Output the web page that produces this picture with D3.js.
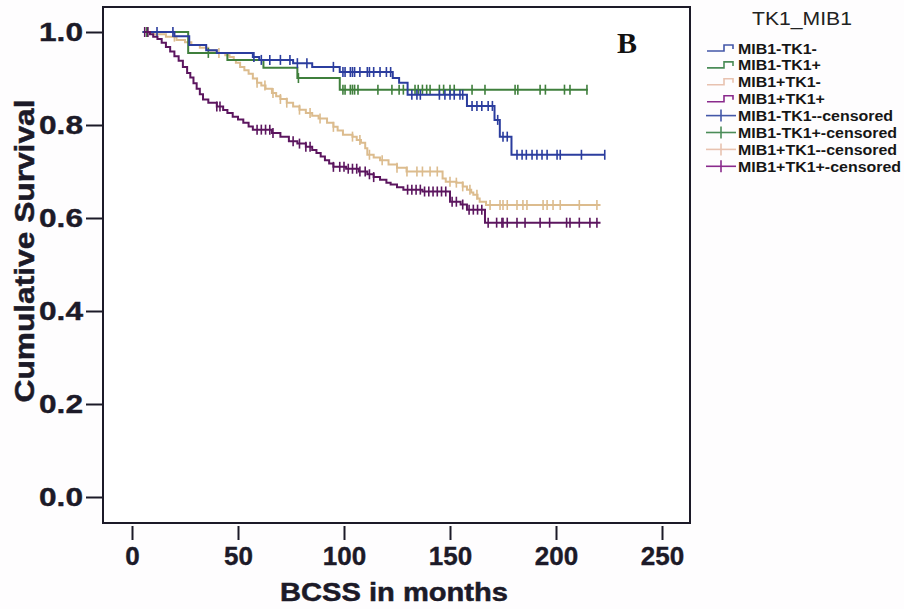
<!DOCTYPE html>
<html><head><meta charset="utf-8">
<script src="https://cdn.jsdelivr.net/npm/d3@7"></script>
<style>
html,body{margin:0;padding:0;background:#fff;}
text{font-family:"Liberation Sans",Arial,sans-serif;}
</style></head>
<body>
<svg id="c" width="904" height="609"></svg>
<script>
// ---------- data ----------
const groups = ["MIB1-TK1-","MIB1-TK1+","MIB1+TK1-","MIB1+TK1+"];
const legendLabels = ["MIB1-TK1-","MIB1-TK1+","MIB1+TK1-","MIB1+TK1+",
  "MIB1-TK1--censored","MIB1-TK1+-censored","MIB1+TK1--censored","MIB1+TK1+-censored"];
const xTicks = [0,50,100,150,200,250];
const yTicks = [0,0.2,0.4,0.6,0.8,1.0];

// [time, survival after event]
const blueSteps = [[5,1.0],[20,0.991],[27,0.972],[35,0.961],[40,0.955],[57,0.946],[60,0.94],[76,0.933],[85,0.925],[98,0.914],[123,0.901],[126,0.891],[130,0.865],[158,0.841],[171,0.811],[173.5,0.775],[179,0.736]];
const blueEnd = 223;
const greenSteps = [[5,1.0],[26.5,0.955],[45,0.94],[62,0.923],[78,0.901],[98,0.876]];
const greenEnd = 215;
const tanSteps = [[5,1.0],[10,0.995],[16,0.99],[21,0.983],[25,0.978],[28,0.972],[32,0.966],[36,0.96],[40,0.955],[44,0.95],[46,0.946],[48,0.94],[49,0.934],[51,0.925],[53,0.918],[55,0.91],[57,0.9],[59,0.891],[61,0.885],[63,0.878],[66,0.869],[68,0.862],[70,0.856],[73,0.848],[76,0.84],[79,0.833],[82,0.826],[85,0.82],[88,0.814],[92,0.805],[95,0.796],[97,0.788],[99.5,0.779],[104,0.775],[106,0.768],[108,0.762],[110,0.75],[111,0.736],[114,0.73],[117,0.724],[121,0.715],[125,0.708],[129.5,0.700],[146.5,0.685],[148,0.678],[153,0.676],[156,0.668],[158,0.661],[160,0.655],[161,0.65],[163,0.642],[164,0.635],[167,0.628]];
const tanEnd = 221;
const purpleSteps = [[6,1.0],[8.5,0.995],[10,0.99],[12,0.985],[14,0.977],[16,0.968],[18,0.958],[20,0.948],[22,0.938],[24,0.925],[26,0.912],[27.5,0.902],[29,0.89],[30.5,0.878],[32,0.866],[33.5,0.855],[36,0.848],[40,0.84],[43,0.832],[45,0.826],[47.5,0.818],[50,0.812],[52.5,0.805],[55,0.797],[57,0.79],[66,0.783],[70,0.775],[74,0.765],[78,0.76],[82,0.753],[85,0.746],[87,0.74],[89,0.732],[91,0.724],[93,0.717],[95,0.71],[101,0.706],[107,0.7],[111,0.694],[114,0.688],[117,0.682],[120,0.676],[122,0.672],[125,0.666],[128,0.661],[137,0.657],[150,0.635],[155,0.629],[158,0.618],[166.5,0.59]];
const purpleEnd = 221;

const blueCens = [11.8,19.3,57.5,61,65,70,74.5,78,82.5,95,99.5,100.5,103,104,105,107.5,111,112,114,117,120,122,132,134.4,136,145,147.6,150,152,154.7,156,160.4,162.7,165,168,170,172.5,175,177,181.6,184,186,188.7,191,193.4,195.8,200.5,202,212,223];
const greenCens = [7,36,78.5,99.5,100.5,103,104,105,106.6,116,122.6,126,128,133.5,135,137,139,140.6,145,147,150,152,160.4,166.5,180.7,182,192.5,195,204,206.6,214.6];
const tanCens = [7,20,41,59,62.7,66.5,70,73,79,84,88.7,95,104,107.5,112,118,125,129.7,134.4,137,140.6,144,150,153,156,159.4,162.7,168.9,173.6,175,177,181.6,184.4,186.3,193.9,195.8,198.6,202,211,219.3];
const purpleCens = [6,7.5,40,41.5,59,61,63,65,66.5,76,79,82,84,95,98,100,102,104,106,107.5,110,112,114,130,132,134,136,138,140,142,144,146,148,151,153,156,159,161,163,165,168,172,174.5,175,177,181.6,185.4,192.5,197,205,206.6,211,216,219.3];

const colors = ["#2b3d9e","#3f7f3c","#dcbc8e","#5c165f"];
const legendColors = ["#4457a8","#4b8c58","#e8c2b0","#8a2a8c"];

// ---------- layout ----------
const svg = d3.select("#c");
const x = d3.scaleLinear().domain([0,250]).range([132,662]);
const y = d3.scaleLinear().domain([0,1]).range([497,32]);
const frame = {l:103, t:7, r:690, b:523};
const ink = "#1c1a28";

svg.append("rect").attr("x",0).attr("y",0).attr("width",904).attr("height",609).attr("fill","#fefdfe");
svg.append("rect").attr("x",frame.l).attr("y",frame.t).attr("width",frame.r-frame.l).attr("height",frame.b-frame.t)
  .attr("fill","#fff").attr("stroke",ink).attr("stroke-width",2);

// axes
const yAxis = d3.axisLeft(y).tickValues(yTicks).tickFormat(d3.format(".1f")).tickSize(17).tickPadding(3);
const gy = svg.append("g").attr("transform",`translate(${frame.l},0)`).call(yAxis);
const xAxis = d3.axisBottom(x).tickValues(xTicks).tickFormat(d3.format("d")).tickSize(14).tickPadding(7);
const gx = svg.append("g").attr("transform",`translate(0,${frame.b+3})`).call(xAxis);
[gy,gx].forEach(g=>{
  g.select(".domain").remove();
  g.selectAll(".tick line").attr("stroke",ink).attr("stroke-width",2);
  g.selectAll(".tick text").attr("fill",ink).attr("font-size",26).attr("font-weight","bold")
    .attr("stroke",ink).attr("stroke-width",0.4).style("font-family","'Liberation Sans',Arial,sans-serif");
});
gy.selectAll(".tick text").attr("textLength",44).attr("lengthAdjust","spacingAndGlyphs");

// axis titles
svg.append("text").attr("transform","translate(34,251) rotate(-90)").attr("text-anchor","middle")
  .attr("font-size",27).attr("font-weight","bold").attr("fill",ink).attr("stroke",ink).attr("stroke-width",0.5)
  .attr("textLength",303).attr("lengthAdjust","spacingAndGlyphs").text("Cumulative Survival");
svg.append("text").attr("x",394).attr("y",601).attr("text-anchor","middle")
  .attr("font-size",25).attr("font-weight","bold").attr("fill",ink).attr("stroke",ink).attr("stroke-width",0.5)
  .attr("textLength",228).attr("lengthAdjust","spacingAndGlyphs").text("BCSS in months");

// panel letter
svg.append("text").attr("x",617).attr("y",53).attr("font-size",30).attr("font-weight","bold")
  .style("font-family","'Liberation Serif','Times New Roman',serif").attr("fill","#111").text("B");

// curves
const series = [
  {steps:blueSteps,end:blueEnd,cens:blueCens},
  {steps:greenSteps,end:greenEnd,cens:greenCens},
  {steps:tanSteps,end:tanEnd,cens:tanCens},
  {steps:purpleSteps,end:purpleEnd,cens:purpleCens}
];
const line = d3.line().x(d=>x(d[0])).y(d=>y(d[1])).curve(d3.curveStepAfter);
function sAt(steps,t){let s=steps[0][1];for(const p of steps){if(p[0]<=t)s=p[1];else break;}return s;}
const drawOrder=[2,1,0,3];
drawOrder.forEach(i=>{
  const sr=series[i];
  const pts=sr.steps.concat([[sr.end,sr.steps[sr.steps.length-1][1]]]);
  svg.append("path").attr("d",line(pts)).attr("fill","none").attr("stroke",colors[i]).attr("stroke-width",2);
  svg.append("g").selectAll("line").data(sr.cens).join("line")
    .attr("x1",d=>x(d)).attr("x2",d=>x(d))
    .attr("y1",d=>y(sAt(sr.steps,d))-5).attr("y2",d=>y(sAt(sr.steps,d))+5)
    .attr("stroke",colors[i]).attr("stroke-width",1.6);
});

// legend
const lg = svg.append("g");
lg.append("text").attr("x",802).attr("y",25).attr("text-anchor","middle").attr("font-size",18)
  .attr("fill","#222").attr("textLength",100).attr("lengthAdjust","spacingAndGlyphs").text("TK1_MIB1");
const rowY = i => 48 + i*16.9;
legendLabels.forEach((lab,i)=>{
  const cy=rowY(i);
  const c=legendColors[i%4];
  if(i<4){
    lg.append("path").attr("d",`M707,${cy+3}H724V${cy-3}H733V${cy+1}`).attr("fill","none").attr("stroke",c).attr("stroke-width",1.6);
  } else {
    lg.append("line").attr("x1",706).attr("x2",736).attr("y1",cy).attr("y2",cy).attr("stroke",c).attr("stroke-width",1.6);
    lg.append("line").attr("x1",721).attr("x2",721).attr("y1",cy-6).attr("y2",cy+6).attr("stroke",c).attr("stroke-width",1.6);
  }
  const t=lg.append("text").attr("x",738).attr("y",cy+5.5).attr("font-size",14.5).attr("font-weight","bold")
    .attr("fill","#161616").text(lab);
  const L=t.node().getComputedTextLength();
  t.attr("textLength",L*1.1).attr("lengthAdjust","spacingAndGlyphs");
});
</script>
</body></html>
